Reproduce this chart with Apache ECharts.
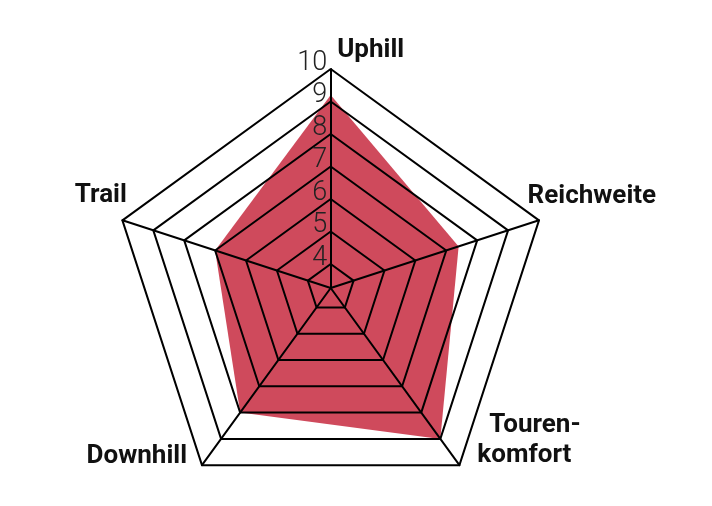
<!DOCTYPE html>
<html><head><meta charset="utf-8">
<script src="https://cdn.jsdelivr.net/npm/echarts/dist/echarts.min.js"></script>
<style>html,body{margin:0;padding:0;background:#fff}#c{width:712px;height:506px}</style>
</head><body><div id="c"></div>
<script>
// ECharts lays radar indicators out counter-clockwise, so the list runs
// Uphill -> Trail -> Downhill -> Tourenkomfort -> Reichweite to appear clockwise.
const categories = ['Uphill', 'Trail', 'Downhill', 'Tourenkomfort', 'Reichweite'];
const scores = [9.2, 7.0, 8.0, 9.0, 7.4];
const ringLevels = [4, 5, 6, 7, 8, 9, 10];
const axisMin = 3.26;
const axisMax = 10;

const nameFont = {fontFamily: 'Roboto', fontWeight: 'bold', fontSize: 26, color: '#111'};
const rich = {
  up: Object.assign({padding: [0, 0, 18, 80]}, nameFont),
  re: Object.assign({padding: [0, 0, 55, 0]}, nameFont),
  t1: Object.assign({padding: [0, 0, 0, 37], lineHeight: 30, height: 30}, nameFont),
  t2: Object.assign({padding: [0, 0, 0, 25], lineHeight: 30, height: 30}, nameFont),
  sp: Object.assign({lineHeight: 30, height: 30}, nameFont),
  dh: Object.assign({padding: [3, 22, 0, 0]}, nameFont),
  tr: Object.assign({padding: [0, 7, 58, 0]}, nameFont)
};
const nameMap = {
  'Uphill': '{up|Uphill}',
  'Reichweite': '{re|Reichweite}',
  'Tourenkomfort': '{t1|Touren-}\n{t2|komfort}\n{sp| }',
  'Downhill': '{dh|Downhill}',
  'Trail': '{tr|Trail}'
};

const chart = echarts.init(document.getElementById('c'), null, {renderer: 'canvas'});
chart.setOption({
  animation: false,
  backgroundColor: '#fff',
  radar: {
    z: 3,
    center: [330.7, 288],
    radius: 219,
    startAngle: 90,
    splitNumber: 6,
    axisNameGap: -12,
    indicator: categories.map(n => ({name: n, min: axisMin, max: axisMax})),
    axisName: {
      formatter: n => nameMap[n],
      rich: rich
    },
    axisLine: {show: true, lineStyle: {color: '#000', width: 2}},
    axisTick: {show: false},
    axisLabel: {show: false},
    splitLine: {show: false},
    splitArea: {show: false}
  },
  series: [
    {
      type: 'radar',
      z: 1,
      silent: true,
      symbol: 'none',
      lineStyle: {width: 0},
      areaStyle: {color: '#cf4a5c', opacity: 1},
      data: [{value: scores}]
    },
    {
      type: 'radar',
      z: 2,
      silent: true,
      symbol: 'circle',
      symbolSize: 1,
      itemStyle: {color: 'rgba(0,0,0,0)'},
      lineStyle: {color: '#000', width: 2},
      label: {
        show: true,
        position: 'left',
        distance: 3,
        offset: [0, -6],
        fontFamily: 'Roboto',
        fontWeight: 300,
        fontSize: 27,
        color: '#222',
        formatter: p => (p.dimensionIndex === 0 ? String(p.value) : '')
      },
      data: ringLevels.map(v => ({value: categories.map(() => v)}))
    }
  ]
});
</script></body></html>
